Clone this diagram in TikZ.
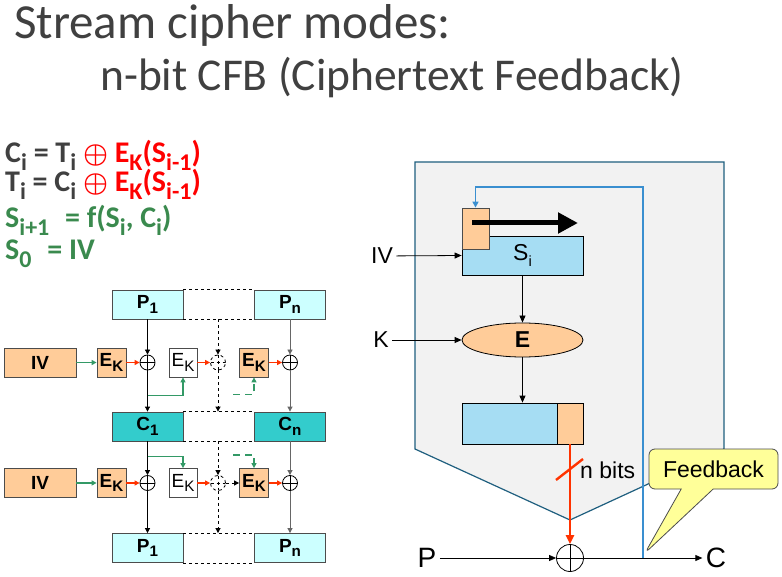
\documentclass[tikz,border=0pt]{standalone}
\usepackage{fontspec}
\setmainfont{Carlito}
\newfontfamily\arial{Liberation Sans}
\usetikzlibrary{arrows.meta,shapes.geometric,shapes.callouts,calc}

\definecolor{titlegray}{HTML}{404040}
\definecolor{eqred}{HTML}{FF0000}
\definecolor{eqgreen}{HTML}{3A8A4E}
\definecolor{pcyan}{HTML}{CCFFFF}
\definecolor{cteal}{HTML}{33CCCC}
\definecolor{orng}{HTML}{FFCC99}
\definecolor{lblue}{HTML}{A6DDF3}
\definecolor{panel}{HTML}{F2F2F2}
\definecolor{panelline}{HTML}{1F5F7F}
\definecolor{fbblue}{HTML}{3A8FD0}
\definecolor{arrred}{HTML}{FF3300}
\definecolor{lgreen}{HTML}{339966}
\definecolor{note}{HTML}{FFFF99}

\newcommand\lowidx[1]{\raisebox{-0.25em}{\scalebox{0.8}{#1}}}
\newcommand\xorsign{\scalebox{2.8}{\fontsize{10}{10}\selectfont\boldmath$\oplus$}}

\tikzset{
	box/.style={draw=black!70, line width=0.8pt, inner sep=0pt, minimum height=29,
		font=\arial\bfseries\fontsize{19}{19}\selectfont},
	pbox/.style={box, fill=pcyan, minimum width=71},
	cbox/.style={box, fill=cteal, minimum width=71},
	ivbox/.style={box, fill=orng, minimum width=72},
	ekbox/.style={box, fill=orng, minimum width=29},
	ekplain/.style={box, fill=white, minimum width=28, font=\arial\fontsize{19}{19}\selectfont},
	xorsym/.style={circle, draw, line width=0.8pt, minimum size=15, inner sep=0pt,
		path picture={\draw (path picture bounding box.north) -- (path picture bounding box.south)
			(path picture bounding box.west) -- (path picture bounding box.east);}},
	flow/.style={line width=0.8pt, -{Triangle[length=5pt,width=5pt]}},
	grnarrow/.style={flow, lgreen, line width=1.6pt},
	redarrow/.style={flow, arrred, line width=1.6pt},
	lbl/.style={font=\arial\fontsize{23}{23}\selectfont},
	bigarrow/.style={line width=0.8pt, -{Triangle[length=7pt,width=6pt]}}
}

\begin{document}
\begin{tikzpicture}[x=1pt, y=-1pt]
	\path[use as bounding box, fill=white] (0,0) rectangle (782,577);

	\node[anchor=base west, inner sep=0pt, text=titlegray, font=\fontsize{49}{49}\selectfont] (title1) at (14,39) {Stream cipher modes:};
	\node[anchor=base west, inner sep=0pt, text=titlegray, font=\fontsize{45.5}{45.5}\selectfont] (title2) at (100,91) {n-bit CFB (Ciphertext Feedback)};

	\begin{scope}[every node/.style={anchor=base west, inner sep=0pt, font=\bfseries\fontsize{30}{30}\selectfont}]
		\node (eq1) at (5,163) {\textcolor{titlegray}{C\lowidx{i} = T\lowidx{i}} \textcolor{eqred}{\xorsign{} E\lowidx{K}(S\lowidx{i-1})}};
		\node (eq2) at (5,192) {\textcolor{titlegray}{T\lowidx{i} = C\lowidx{i}} \textcolor{eqred}{\xorsign{} E\lowidx{K}(S\lowidx{i-1})}};
		\node[text=eqgreen] (eq3) at (5,228) {S\lowidx{i+1}\hspace{9pt} = f(S\lowidx{i}, C\lowidx{i})};
		\node[text=eqgreen] (eq4) at (5,260) {S\lowidx{0}\hspace{9pt} = IV};
	\end{scope}

	% left: chained blocks
	\node[pbox] (p1) at (147.5,304.5) {P\lowidx{1}};
	\node[pbox] (pn) at (290,304.5) {P\lowidx{n}};
	\node[cbox] (c1) at (147.5,426.5) {C\lowidx{1}};
	\node[cbox] (cn) at (290,426.5) {C\lowidx{n}};
	\node[pbox] (q1) at (147.5,548) {P\lowidx{1}};
	\node[pbox] (qn) at (290,548) {P\lowidx{n}};
	\foreach \row/\ypos in {1/362.5, 2/483}
	{
		\node[ivbox] (iv\row) at (40,\ypos) {IV};
		\node[ekbox] (ek\row) at (111.5,\ypos) {E\lowidx{K}};
		\node[xorsym] (x\row) at (147.5,\ypos) {};
		\node[ekplain] (ew\row) at (183,\ypos) {E\lowidx{K}};
		\node[xorsym, dashed] (dx\row) at (218,\ypos) {};
		\node[ekbox] (ekr\row) at (254,\ypos) {E\lowidx{K}};
		\node[xorsym] (xr\row) at (290,\ypos) {};
		\draw[grnarrow] (iv\row) -- (ek\row);
		\draw[redarrow] (ek\row) -- (x\row);
		\draw[redarrow] (ew\row) -- (dx\row);
		\draw[redarrow] (ekr\row) -- (xr\row);
	}
	\foreach \a/\b in {p1/pn, c1/cn, q1/qn}
		\draw[dashed, line width=0.8pt] (\a.north east) -- (\b.north west) (\a.south east) -- (\b.south west);
	\draw[flow] (p1) -- (x1);
	\draw[flow] (x1) -- (c1);
	\draw[flow] (c1) -- (x2);
	\draw[flow] (x2) -- (q1);
	\draw[flow, black!60] (pn) -- (xr1);
	\draw[flow, black!60] (xr1) -- (cn);
	\draw[flow, black!60] (cn) -- (xr2);
	\draw[flow, black!60] (xr2) -- (qn);
	\draw[flow, dashed] (dx1 |- p1.south) -- (dx1);
	\draw[flow, dashed] (dx1) -- (dx1 |- c1.north);
	\draw[flow, dashed] (dx2 |- c1.south) -- (dx2);
	\draw[flow, dashed] (dx2) -- (dx2 |- q1.north);
	\draw[flow, dashed] (dx2) -- (ekr2);
	\draw[grnarrow] (x1.south) ++(0,25) -| (ew1);
	\draw[grnarrow, dash pattern=on 7pt off 5pt] ($(ekr1.south)+(-21,17)$) -| (ekr1);
	\draw[grnarrow] (c1.south) ++(0,15) -| (ew2);
	\draw[grnarrow, dash pattern=on 7pt off 5pt] ($(ekr2.north)+(-21,-13)$) -| (ekr2);

	% right: one CFB step
	\filldraw[fill=panel, draw=panelline, line width=1.2pt] (415,162) -- (724,162) -- (724,449) -- (570,520) -- (415,449) -- cycle;
	\node[draw, fill=lblue, line width=0.8pt, minimum width=121, minimum height=39, inner sep=0pt, lbl] (si) at (522.5,255.5) {S\lowidx{\scalebox{0.8}{i}}};
	\node[draw=black!70, fill=orng, line width=0.8pt, minimum width=27, minimum height=41, inner sep=0pt] (shiftin) at (475.5,228.5) {};
	\draw[line width=5pt, -{Triangle[length=20pt,width=20pt]}] (472,223) -- (578,223);
	\node[ellipse, draw, fill=orng, line width=0.8pt, minimum width=121, minimum height=34, inner sep=0pt,
		font=\arial\bfseries\fontsize{23}{23}\selectfont] (enc) at (522.5,340) {E};
	\node[draw, fill=lblue, line width=0.8pt, minimum width=95, minimum height=41, inner sep=0pt] (outblk) at (509.5,423.5) {};
	\node[draw, fill=orng, line width=0.8pt, minimum width=26, minimum height=41, inner sep=0pt] (outsel) at (570,423.5) {};
	\node[xorsym, minimum size=27] (mix) at (570,558) {};
	\node[lbl] (ivin) at (382,256) {IV};
	\node[lbl] (kin) at (381,340) {K};
	\node[lbl, font=\arial\fontsize{28}{28}\selectfont] (pin) at (427,558) {P};
	\node[lbl, font=\arial\fontsize{28}{28}\selectfont] (cout) at (716,558) {C};
	\node[lbl, anchor=west, inner sep=0pt] (nbits) at (580,470) {n bits};
	\draw[bigarrow] (ivin) -- (si.west);
	\draw[bigarrow] (kin) -- (enc.west);
	\draw[bigarrow] (si) -- (enc);
	\draw[bigarrow] (enc.south) -- (enc.south |- outblk.north);
	\draw[arrred, line width=2.4pt, -{Triangle[length=9pt,width=8pt]}] (outsel) -- (mix);
	\draw[arrred, line width=2.4pt] (556,480) -- (583,459);
	\draw[bigarrow] (pin) -- (mix);
	\draw[bigarrow] (mix) -- (cout);
	\coordinate (tap) at (643,558);
	\draw[fbblue, line width=1.5pt, -{Triangle[length=6pt,width=6pt]}] (tap) -- ++(0,-371) -| (shiftin.north);
	\node[rectangle callout, draw=black!70, fill=note, line width=0.8pt, rounded corners=6pt,
		minimum width=129, minimum height=40, callout absolute pointer={(645,553)},
		callout pointer width=32pt, lbl] (fbnote) at (713.5,469) {Feedback};
\end{tikzpicture}
\end{document}
